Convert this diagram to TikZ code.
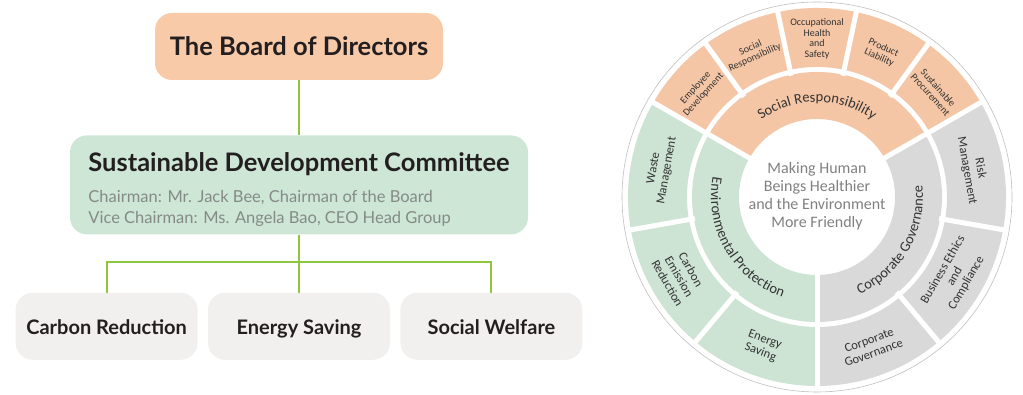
\documentclass[tikz,border=0pt]{standalone}
\usepackage{fontspec}
\setmainfont{Lato}
\newfontfamily\wheelfont{Carlito}
\usepackage{tikz}
\usetikzlibrary{positioning, decorations.text}

\definecolor{boardfill}{HTML}{F9CAA8}
\definecolor{sdcfill}{HTML}{CDE6D6}
\definecolor{leaffill}{HTML}{F1F0EF}
\definecolor{linkgreen}{HTML}{8DC63F}
\definecolor{darktext}{HTML}{231F20}
\definecolor{subtext}{HTML}{858A87}
\definecolor{socfill}{HTML}{F5C6A5}
\definecolor{envfill}{HTML}{CDE3D4}
\definecolor{govfill}{HTML}{D9D9D9}
\definecolor{wheeltext}{HTML}{333333}
\definecolor{hubtext}{HTML}{808080}

\begin{document}
\begin{tikzpicture}[
    x=1pt, y=1pt,
    box/.style={rectangle, rounded corners=17pt, text=darktext, inner sep=0pt},
    topbox/.style={box, fill=boardfill, minimum width=288pt, minimum height=67pt, text height=18.5pt, text depth=0pt, font=\bfseries\fontsize{25.5}{28}\selectfont},
    midbox/.style={box, fill=sdcfill, minimum width=458pt, minimum height=99pt, align=left, font=\fontsize{16.5}{21}\selectfont},
    leafbox/.style={box, fill=leaffill, minimum width=182pt, minimum height=67pt, text height=17.5pt, text depth=2pt, font=\bfseries\fontsize{20}{24}\selectfont},
    link/.style={draw=linkgreen, line width=2pt},
    gap/.style={white, line width=5pt},
    rim/.style={draw=black!25, line width=0.6pt},
    hub/.style={text=hubtext, align=center, font=\wheelfont\fontsize{16}{18}\selectfont},
    seglabel/.style={text=wheeltext, align=center, font=\wheelfont\fontsize{10}{10.5}\selectfont},
    sidelabel/.style={seglabel, font=\wheelfont\fontsize{12.5}{13.5}\selectfont},
    ringtext/.style={decorate, decoration={text along path, text align=center, text color=wheeltext}}
]
\useasboundingbox (0,0) rectangle (1023,395);

% organisation chart
\node[topbox] (board) at (299,348.5) {The Board of Directors};
\node[midbox, below=55pt of board] (sdc) {\rule{0pt}{28pt}{\bfseries\fontsize{25.5}{21}\selectfont\color{darktext}Sustainable Development Committee}\\[9.7pt]
  {\color{subtext}Chairman: Mr. Jack Bee, Chairman of the Board}\\
  {\color{subtext}Vice Chairman: Ms. Angela Bao, CEO Head Group}};
\node[leafbox, below=58pt of sdc] (energy) {Energy Saving};
\node[leafbox, left=10pt of energy] (carbon) {Carbon Reduction};
\node[leafbox, right=10pt of energy] (welfare) {Social Welfare};

\draw[link] (board) -- (sdc);
\draw[link] (sdc) -- (energy);
\coordinate (fork) at ([yshift=-27pt]sdc.south);
\draw[link] (fork) -| (carbon);
\draw[link] (fork) -| (welfare);

% sustainability wheel
\begin{scope}[shift={(817,198)}]
  \draw[rim] (0,0) circle[radius=195pt];
  \foreach \a/\b/\c in {30/150/socfill, 150/270/envfill, 270/390/govfill}{
    \fill[\c] (\a:78pt) arc[start angle=\a, end angle=\b, radius=78pt] -- (\b:125pt) arc[start angle=\b, end angle=\a, radius=125pt] -- cycle;
    \fill[\c] (\a:130pt) arc[start angle=\a, end angle=\b, radius=130pt] -- (\b:189pt) arc[start angle=\b, end angle=\a, radius=189pt] -- cycle;
  }
  \foreach \a in {30,150,270}
    \draw[gap] (\a:70pt) -- (\a:191pt);
  \foreach \a in {54,78,102,126,190,230,-50,-10}
    \draw[gap] (\a:124pt) -- (\a:191pt);

  \node[hub] (hub) at (0,1) {Making Human\\Beings Healthier\\and the Environment\\More Friendly};

  \path[ringtext, decoration={text={|\wheelfont\fontsize{14.5}{14}\selectfont|Social Responsibility}}]
    (150:95pt) arc[start angle=150, end angle=30, radius=95pt];
  \path[ringtext, decoration={text={|\wheelfont\fontsize{14.5}{14}\selectfont|Environmental Protection}}]
    (150:106pt) arc[start angle=150, end angle=270, radius=106pt];
  \path[ringtext, decoration={text={|\wheelfont\fontsize{14.5}{14}\selectfont|Corporate Governance}}]
    (270:106pt) arc[start angle=270, end angle=390, radius=106pt];

  % upper segments
  \foreach \ang/\rot/\txt [count=\i] in {
      138/48/{Employee\\Development}, 114/24/{Social\\Responsibility},
      90/0/{Occupational\\Health\\and\\Safety}, 66/-24/{Product\\Liability},
      42/-48/{Sustainable\\Procurement}}
    \node[seglabel, rotate=\rot] (seg\i) at (\ang:158pt) {\txt};
  % side segments
  \foreach \ang/\rot/\txt [count=\i] in {
      170/80/{Waste\\Management}, 210/-60/{Carbon\\Emission\\Reduction},
      250/-20/{Energy\\Saving}, 10/-80/{Risk\\Management},
      -30/60/{Business Ethics\\and\\Compliance}, -70/20/{Corporate\\Governance}}
    \node[sidelabel, rotate=\rot] (side\i) at (\ang:159pt) {\txt};
\end{scope}
\end{tikzpicture}
\end{document}
